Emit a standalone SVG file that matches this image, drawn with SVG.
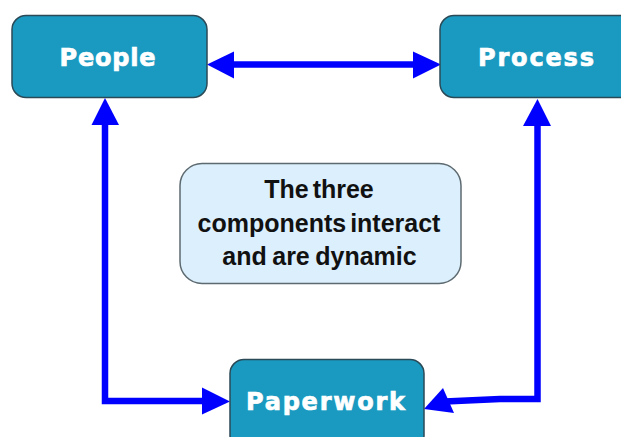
<svg xmlns="http://www.w3.org/2000/svg" width="621" height="437" viewBox="0 0 621 437">
<style>
.box{fill:#1a9ac0;stroke:#2b4a57;stroke-width:1.5}
.note{fill:#dbeffd;stroke:#5d6a70;stroke-width:1.5}
.lbl{font-family:"DejaVu Sans",sans-serif;font-weight:700;font-size:24px;fill:#fff;stroke:#fff;stroke-width:.7;text-anchor:middle}
.txt{font-family:"Liberation Sans",Arial,sans-serif;font-weight:700;font-size:25px;fill:#111;text-anchor:middle}
.ln{fill:none;stroke:#0000ff;stroke-width:6.5;stroke-linejoin:miter}
.hd{fill:#0000ff}
</style>
<g id="connectors">
<path class="ln" d="M230 64.500H420"/>
<polygon class="hd" points="207,64.500 234,51.500 234,78.500"/>
<polygon class="hd" points="441,64.500 413,51.500 413,78.500"/>
<path class="ln" d="M105 120V401H210"/>
<polygon class="hd" points="105,98 91.500,125 119,125"/>
<polygon class="hd" points="230,401.500 202,387.500 202,414.500"/>
<path class="ln" d="M537.500 120V399H500L445 401.500"/>
<polygon class="hd" points="537.500,99 523,126 551,126"/>
<polygon class="hd" points="424,409 443,388 454,413"/>
</g>
<g id="people">
<rect class="box" x="12" y="15.500" width="195" height="82" rx="14"/>
<text class="lbl" x="107.500" y="66" textLength="96" lengthAdjust="spacing">People</text>
</g>
<g id="process">
<rect class="box" x="440" y="15.500" width="200" height="82" rx="14"/>
<text class="lbl" x="536" y="66" textLength="116" lengthAdjust="spacing">Process</text>
</g>
<g id="paperwork">
<rect class="box" x="230" y="359.500" width="194" height="90" rx="14"/>
<text class="lbl" x="325.500" y="410" textLength="159" lengthAdjust="spacing">Paperwork</text>
</g>
<g id="note">
<rect class="note" x="180" y="163.500" width="281" height="120" rx="22"/>
<text class="txt" x="319" y="198" word-spacing="-3">The three</text>
<text class="txt" x="319" y="232" word-spacing="-3">components interact</text>
<text class="txt" x="319.500" y="265" word-spacing="-1.500">and are dynamic</text>
</g>
</svg>
